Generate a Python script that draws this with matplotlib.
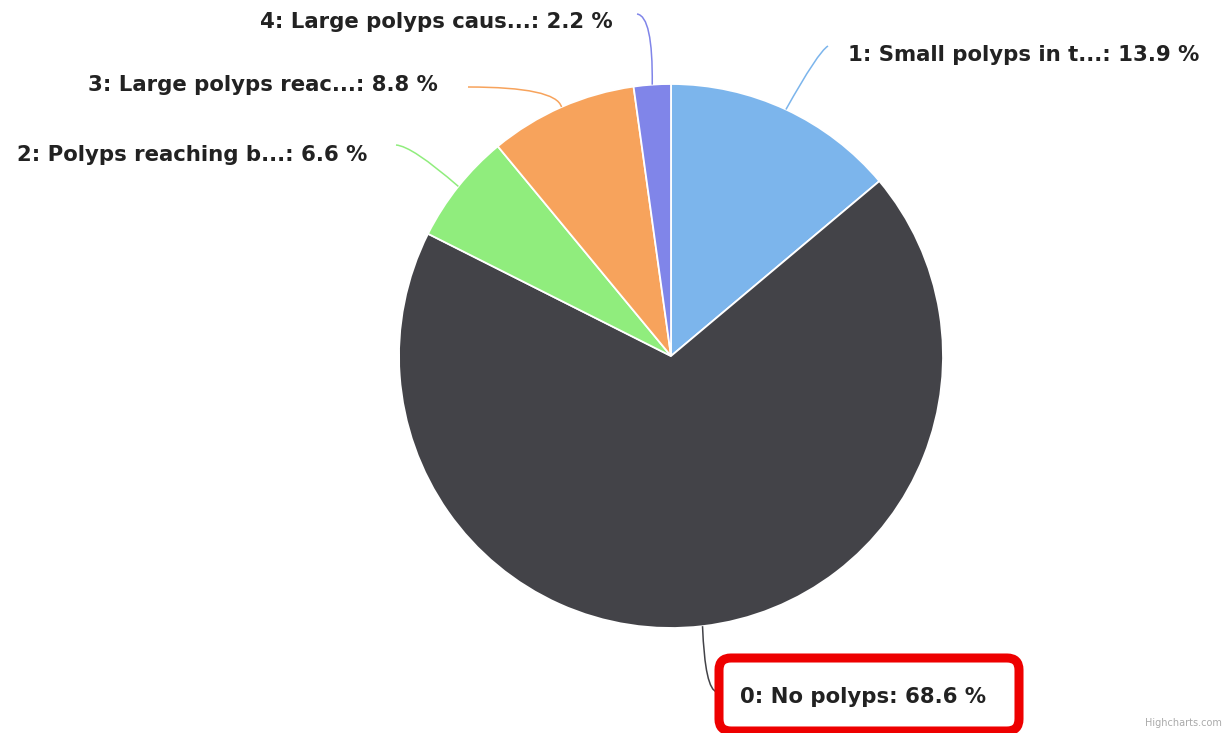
import numpy as np
import matplotlib.pyplot as plt
from matplotlib.path import Path
from matplotlib.patches import PathPatch, FancyBboxPatch

# slices in drawing order (clockwise from 12 o'clock)
labels = ["1: Small polyps in t...", "0: No polyps", "2: Polyps reaching b...",
          "3: Large polyps reac...", "4: Large polyps caus..."]
values = [13.9, 68.6, 6.6, 8.8, 2.2]
colors = ["#7cb5ec", "#434348", "#90ed7d", "#f7a35c", "#8085e9"]

W, H = 1227, 733
fig = plt.figure(figsize=(W / 100, H / 100), dpi=100)
ax = fig.add_axes([0, 0, 1, 1])

# pie geometry in pixel units (y measured from bottom)
cx, cy, r = 671, H - 356, 272
wedges, _ = ax.pie(values, colors=colors, startangle=90, counterclock=False,
                   center=(cx, cy), radius=r,
                   wedgeprops=dict(edgecolor="white", linewidth=1.3))
ax.set_xlim(0, W)
ax.set_ylim(0, H)
ax.set_aspect("auto")
ax.axis("off")

# label layout: text anchor (px from top), alignment, connector control + end point
layout = [
    ((848, 55), "left", (818, 52), (828, 46)),
    ((740, 697), "left", (705, 690), (717, 692)),
    ((367, 155), "right", (412, 146), (396, 145)),
    ((438, 85), "right", (556, 87), (468, 87)),
    ((613, 22), "right", (653, 16), (637, 14)),
]

for w, lab, val, col, (tpos, ha, ctrl, end) in zip(wedges, labels, values, colors, layout):
    ang = np.deg2rad((w.theta1 + w.theta2) / 2)
    start = (cx + r * np.cos(ang), cy + r * np.sin(ang))
    pts = [start, (ctrl[0], H - ctrl[1]), (end[0], H - end[1])]
    path = Path(pts, [Path.MOVETO, Path.CURVE3, Path.CURVE3])
    ax.add_patch(PathPatch(path, facecolor="none", edgecolor=col, lw=1.1))
    ax.text(tpos[0], H - tpos[1], f"{lab}: {val} %", ha=ha, va="center",
            fontsize=15.3, fontweight="bold", color="#222222")

# red highlight around the "No polyps" label
box = FancyBboxPatch((719, H - 731), 300, 73,
                     boxstyle="round,pad=0,rounding_size=12",
                     facecolor="none", edgecolor="#ee0000", lw=6.5)
ax.add_patch(box)

ax.text(1222, 5, "Highcharts.com", ha="right", va="bottom", fontsize=7, color="#aaaaaa")

fig.savefig("out.png", dpi=100)
